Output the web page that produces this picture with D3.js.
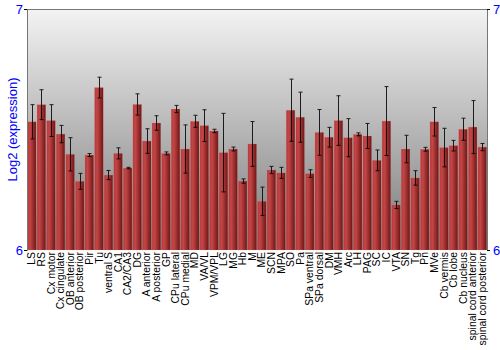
<!DOCTYPE html>
<html>
<head>
<meta charset="utf-8">
<script src="https://cdn.jsdelivr.net/npm/d3@7"></script>
<style>
  body { margin: 0; background: #fff; }
  svg { display: block; font-family: "Liberation Sans", Arial, sans-serif; }
</style>
</head>
<body>
<div id="chart"></div>
<script>
//chart data
const regions = ["LS", "RS", "Cx motor", "Cx cingulate", "OB anterior", "OB posterior", "Pir", "Tu",
  "ventral S", "CA1", "CA2/CA3", "DG", "A anterior", "A posterior", "GP", "CPu lateral", "CPu medial",
  "MD", "VA/VL", "VPM/VPL", "LG", "MG", "Hb", "M", "ME", "SCN", "MPA", "SO", "Pa", "SPa ventral",
  "SPa dorsal", "DM", "VMH", "Arc", "LH", "PAG", "SC", "IC", "VTA", "SN", "Tg", "Pn", "MVe",
  "Cb vermis", "Cb lobe", "Cb nucleus", "spinal cord anterior", "spinal cord posterior"];
const expression = [6.532, 6.603, 6.537, 6.481, 6.397, 6.285, 6.394, 6.674,
  6.311, 6.401, 6.340, 6.604, 6.452, 6.527, 6.401, 6.585, 6.419,
  6.534, 6.516, 6.494, 6.404, 6.419, 6.286, 6.440, 6.202, 6.332, 6.320, 6.580, 6.551, 6.317,
  6.488, 6.468, 6.537, 6.466, 6.480, 6.473, 6.372, 6.535, 6.187, 6.419, 6.299, 6.418, 6.532,
  6.425, 6.433, 6.501, 6.510, 6.427];
const errors = [0.071, 0.062, 0.066, 0.036, 0.069, 0.033, 0.006, 0.043,
  0.019, 0.023, 0.003, 0.044, 0.051, 0.030, 0.006, 0.015, 0.100,
  0.025, 0.066, 0.007, 0.163, 0.008, 0.009, 0.093, 0.059, 0.015, 0.023, 0.129, 0.104, 0.016,
  0.095, 0.041, 0.103, 0.079, 0.006, 0.052, 0.043, 0.143, 0.015, 0.057, 0.030, 0.008, 0.059,
  0.080, 0.022, 0.046, 0.110, 0.015];
const yTicks = [6, 7];
const yTitle = "Log2 (expression)";

//sizes
const width = 500, height = 350;
const margin = {top: 9, right: 13, bottom: 100, left: 27};

const svg = d3.select("#chart")
  .append("svg")
  .attr("width", width)
  .attr("height", height);

const defs = svg.append("defs");
const bg = defs.append("linearGradient")
  .attr("id", "bg").attr("x1", 0).attr("y1", 0).attr("x2", 0).attr("y2", 1);
bg.append("stop").attr("offset", "0%").attr("stop-color", "#f3f3f3");
bg.append("stop").attr("offset", "100%").attr("stop-color", "#7a7a7a");

const barGrad = defs.append("linearGradient")
  .attr("id", "bar").attr("x1", 0).attr("y1", 0).attr("x2", 1).attr("y2", 0);
barGrad.append("stop").attr("offset", "0%").attr("stop-color", "#b53a3a");
barGrad.append("stop").attr("offset", "30%").attr("stop-color", "#c44545");
barGrad.append("stop").attr("offset", "100%").attr("stop-color", "#6e1616");

//scales
const x = d3.scaleBand()
  .domain(regions)
  .range([margin.left, width - margin.right])
  .paddingInner(0.1)
  .paddingOuter(0.05);

const y = d3.scaleLinear()
  .domain([6, 7])
  .range([height - margin.bottom, margin.top]);

//plot background
svg.append("rect")
  .attr("x", margin.left)
  .attr("y", margin.top)
  .attr("width", width - margin.left - margin.right)
  .attr("height", height - margin.top - margin.bottom)
  .attr("fill", "url(#bg)");

//bars
svg.append("g")
  .selectAll("rect")
  .data(regions)
  .join("rect")
  .attr("x", d => x(d))
  .attr("y", (d, i) => y(expression[i]))
  .attr("width", x.bandwidth())
  .attr("height", (d, i) => y(6) - y(expression[i]))
  .attr("fill", "url(#bar)")
  .attr("stroke", "rgba(230,120,120,0.35)")
  .attr("stroke-width", 0.5);

//error bars
const err = svg.append("g")
  .attr("stroke", "#000")
  .attr("stroke-width", 1)
  .attr("opacity", 0.85);
regions.forEach((d, i) => {
  const cx = Math.round(x(d) + x.bandwidth() / 2) + 0.5;
  const y1 = y(expression[i] + errors[i]);
  const y2 = y(expression[i] - errors[i]);
  err.append("line").attr("x1", cx).attr("x2", cx).attr("y1", y1).attr("y2", y2);
  err.append("line").attr("x1", cx - 2).attr("x2", cx + 2).attr("y1", y1).attr("y2", y1);
  err.append("line").attr("x1", cx - 2).attr("x2", cx + 2).attr("y1", y2).attr("y2", y2);
});

//frame
svg.append("line")
  .attr("x1", margin.left).attr("x2", width - margin.right)
  .attr("y1", margin.top + 0.5).attr("y2", margin.top + 0.5)
  .attr("stroke", "#777");

//left axis
const yAxisL = d3.axisLeft(y).tickValues(yTicks).tickFormat(d3.format("d")).tickSize(3);
svg.append("g")
  .attr("transform", `translate(${margin.left}, 0)`)
  .call(yAxisL)
  .call(g => g.select(".domain").attr("stroke", "#777"))
  .call(g => g.selectAll(".tick line").attr("stroke", "#000"))
  .call(g => g.selectAll(".tick text")
    .attr("fill", "#0000ff")
    .style("font-size", "13px")
    .attr("x", -4)
    .attr("dy", "0.35em"));

//right axis
const yAxisR = d3.axisRight(y).tickValues(yTicks).tickFormat(d3.format("d")).tickSize(3);
svg.append("g")
  .attr("transform", `translate(${width - margin.right}, 0)`)
  .call(yAxisR)
  .call(g => g.select(".domain").attr("stroke", "#777"))
  .call(g => g.selectAll(".tick line").attr("stroke", "#000"))
  .call(g => g.selectAll(".tick text")
    .attr("fill", "#0000ff")
    .style("font-size", "13px")
    .attr("dy", "0.35em"));

//category labels
const xAxis = d3.axisBottom(x).tickSize(0);
svg.append("g")
  .attr("transform", `translate(0, ${height - margin.bottom})`)
  .call(xAxis)
  .call(g => g.select(".domain").remove())
  .call(g => g.selectAll(".tick text")
    .attr("fill", "#000")
    .style("font-size", "10.4px")
    .attr("text-anchor", "end")
    .attr("transform", "rotate(-90)")
    .attr("x", -2)
    .attr("y", 0)
    .attr("dy", "0.35em"));

//y title
svg.append("text")
  .attr("transform", `translate(12, ${(margin.top + height - margin.bottom) / 2}) rotate(-90)`)
  .attr("text-anchor", "middle")
  .attr("dy", "0.35em")
  .attr("fill", "#0000ff")
  .style("font-size", "13px")
  .text(yTitle);
</script>
</body>
</html>
